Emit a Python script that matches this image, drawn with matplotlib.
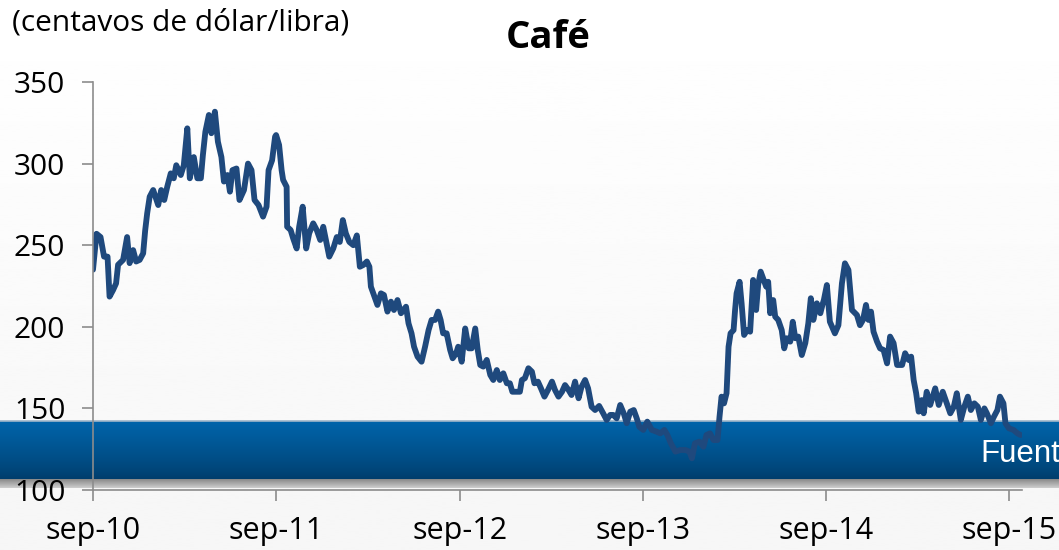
import numpy as np
import pandas as pd
import matplotlib
matplotlib.use('Agg')
import matplotlib.pyplot as plt

# Precio del café (centavos de dólar/libra), leído del gráfico
# dias: días transcurridos desde el 1 de septiembre de 2010
dias = [0, 7, 15, 22, 29, 33, 40, 46, 50, 60, 68, 73, 80, 86, 93, 100, 104, 108, 113, 120,
        130, 136, 142, 148, 155, 161, 166, 175, 181, 188, 193, 201, 208, 215, 219, 224, 231, 236, 243, 249,
        256, 261, 268, 273, 278, 286, 292, 301, 309, 316, 322, 330, 339, 346, 350, 357, 363,
        365, 371, 376, 379, 386, 387, 394, 399, 406, 411, 418, 425, 431, 439, 446, 453, 459, 465, 471,
        479, 486, 492, 498, 504, 511, 519, 526, 532, 539, 546, 551, 554, 560, 567, 574, 580, 587,
        594, 600, 607, 614, 624, 629, 635, 640, 647, 655, 662, 669, 675, 682, 688, 693, 698, 705,
        712, 717, 724,
        728, 735, 742, 749, 755, 762, 767, 772, 778, 785, 792, 798, 805, 811, 818, 825, 831, 836,
        845, 851, 855, 861, 868, 875, 880, 887, 893, 900, 907, 915, 921, 928, 935, 941, 948, 954,
        961, 968, 974, 981, 987, 994, 1001, 1009, 1017, 1024, 1031, 1037, 1044, 1051, 1058, 1064,
        1071, 1078, 1084, 1089,
        1097, 1105, 1114, 1123, 1131, 1139, 1145, 1152, 1161, 1171, 1181, 1189, 1194, 1200, 1209,
        1217, 1223, 1230, 1237, 1245, 1249, 1253, 1258, 1263, 1267, 1271, 1277, 1280, 1283, 1289,
        1293, 1298, 1304, 1310, 1316, 1322, 1326, 1331, 1336, 1342, 1346, 1350, 1356, 1360, 1366,
        1373, 1378, 1383, 1390, 1395, 1400, 1406, 1413, 1420, 1426, 1431, 1436, 1443, 1450,
        1455, 1457, 1463, 1469, 1479, 1486, 1493, 1499, 1506, 1513, 1523, 1529, 1535, 1541, 1546,
        1551, 1556, 1563, 1569, 1576, 1583, 1589, 1596, 1603, 1613, 1619, 1626, 1631, 1636, 1641,
        1646, 1652, 1656, 1662, 1669, 1679, 1686, 1694, 1701, 1709, 1716, 1722, 1730, 1737, 1744,
        1750, 1757, 1764, 1770, 1777, 1782, 1790, 1796, 1803, 1808, 1815, 1819, 1826, 1835, 1843, 1849]

precios = [235, 257, 255, 243, 243, 218.5, 222.5, 226.6, 238, 241, 255, 239, 247, 240, 241, 245, 259, 269.5, 279.7, 283.8,
           274.6, 283.8, 277.7, 285.8, 294, 291, 299, 293, 299, 321.6, 291, 304, 291, 291, 305, 319.5, 329.8, 318.6, 331.8, 313.4,
           304, 289, 293, 282.8, 296, 297, 277.7, 283.8, 300, 296, 277.7, 274.6, 267.5, 273.6, 296, 302, 316.5,
           317.5, 311.4, 296, 290, 285.8, 261.3, 259.3, 254.2, 248, 261.3, 273.6, 248, 257.3, 263.4, 259.3, 253.2, 261.3, 252.1, 243,
           248, 255, 252, 265.4, 257.3, 252, 250, 256, 236.8, 237.9, 240, 236.8, 224.6, 219.5, 213.4, 220.5, 219.5, 209.3,
           215.4, 210.3, 216.4, 208.3, 212.3, 202.1, 196, 187.8, 181.7, 178.6, 187.8, 198, 204.2, 204.2, 209.3, 204.2, 196, 196,
           185.8, 180.7, 183.8,
           187.8, 178.6, 199, 186.8, 186.8, 199, 185.8, 176.6, 175.6, 179.7, 170.5, 167.4, 173.5, 167.4, 171.5, 165.4, 165.4, 160.2,
           160.2, 160.2, 167.4, 168.5, 174.6, 172.5, 165.4, 166.4, 162.3, 157.2, 161.3, 166.4, 161.3, 157.2, 160.2, 164.3, 161.3, 158.2,
           166.4, 156.2, 163.3, 167.4, 162.3, 151, 149, 151.5, 147, 142.9, 146, 146, 143.9, 152.1, 147, 140.9,
           148, 149, 143.9, 138.8,
           136.8, 141.9, 136.8, 135.8, 134.7, 136.8, 133.7, 128.6, 123.5, 124.5, 124.5, 123.5, 119.4, 128.6, 129.6,
           126.5, 133.7, 134.7, 130.6, 130.6, 144.9, 157.2, 153.1, 159.3, 187.8, 196, 198, 210.3, 220.5, 227.6,
           214.4, 195, 198, 197, 228.7, 210.3, 225.6, 233.8, 229.7, 224.6, 227.6, 208.3, 216.4, 206.2, 204.2,
           198, 186.8, 193, 190.9, 203.1, 193, 194, 182.7, 190, 202.1, 217.5, 204.2, 214.4, 208.3,
           214.4, 216.4, 225.6, 203.1, 196, 201, 226.6, 238.9, 234.8, 210.3, 207.2, 201, 204.2, 213.4, 204.2,
           209.3, 197, 190.9, 186.8, 185.8, 177.6, 194, 190, 176.6, 176.6, 183.8, 179.7, 181.7, 167.4, 159.3,
           148, 155.1, 147, 160.2, 152.1, 162.3, 152.1, 160.2, 154.1, 147, 151, 159.3, 142.9, 151, 157.2,
           149, 153.1, 151, 142.9, 150, 147, 140.9, 144.9, 149, 157.2, 153.1, 140.9, 137.8, 136.8, 134.7, 133.7]

etiquetas_x = ['sep-10', 'sep-11', 'sep-12', 'sep-13', 'sep-14', 'sep-15']
ticks_x = pd.to_datetime(['2010-09-01', '2011-09-01', '2012-09-01', '2013-09-01', '2014-09-01', '2015-09-01'])
ticks_y = [100, 150, 200, 250, 300, 350]

inicio = pd.Timestamp('2010-09-01')
fechas = inicio + pd.to_timedelta(dias, unit='D')

fig = plt.figure(figsize=(10.59, 5.5), dpi=100)

# fondo con degradado y franja azul
fondo = fig.add_axes([0, 0, 1, 1], zorder=-10)
fondo.set_xlim(0, 1)
fondo.set_ylim(0, 1)
fondo.axis('off')
grad = np.linspace(0.965, 1.0, 256).reshape(-1, 1)
fondo.imshow(grad, extent=[0, 1, 0, 1], origin='lower', aspect='auto', cmap='gray', vmin=0, vmax=1)

azul = np.zeros((64, 1, 3))
t = np.linspace(0, 1, 64)
c_bajo = np.array([0x00, 0x3c, 0x6a]) / 255
c_alto = np.array([0x00, 0x64, 0xaa]) / 255
azul[:, 0, :] = c_bajo + (c_alto - c_bajo) * t[:, None] ** 0.8
fondo.imshow(azul, extent=[0, 1, 0.1273, 0.2345], origin='lower', aspect='auto')
sombra = np.zeros((16, 1, 3))
s = np.linspace(0, 1, 16)
sombra[:, 0, :] = (0.80 - 0.26 * s)[:, None]
fondo.imshow(sombra, extent=[0, 1, 0.1127, 0.1273], origin='lower', aspect='auto')
fondo.axhline(0.2345, color='#9fb6ca', lw=1.2)
# en el original el texto queda cortado por el borde: se ve solo "Fuent"
fondo.text(980 / 1059, 0.1745, 'Fuent', color='white', fontsize=22.5,
           family='Liberation Sans', va='center', ha='left')

ax = fig.add_axes([93 / 1059, 1 - 490 / 550, (1022 - 93) / 1059, (490 - 82) / 550])
ax.set_facecolor('none')
ax.plot(fechas, precios, color='#1f497d', lw=4.2, solid_joinstyle='round', solid_capstyle='round')

ax.set_xlim(inicio, inicio + pd.Timedelta(days=1852))
ax.set_ylim(100, 350)
ax.set_yticks(ticks_y)
ax.set_xticks(ticks_x)
ax.set_xticklabels(etiquetas_x)

for lado in ['top', 'right']:
    ax.spines[lado].set_visible(False)
for lado in ['left', 'bottom']:
    ax.spines[lado].set_color('#8c8c8c')
    ax.spines[lado].set_linewidth(1.2)

ax.tick_params(axis='y', length=8, width=1.2, color='#8c8c8c', pad=12, labelsize=21.5)
ax.tick_params(axis='x', length=8, width=1.2, color='#8c8c8c', pad=11, labelsize=22)
for lbl in ax.get_xticklabels() + ax.get_yticklabels():
    lbl.set_family('Open Sans')

fig.text(12 / 1059, 1 - 23 / 550, '(centavos de dólar/libra)', fontsize=21.5,
         family='Open Sans', va='center', ha='left')
fig.text(548 / 1059, 1 - 38 / 550, 'Café', fontsize=27.5, fontweight='bold',
         family='Open Sans', va='center', ha='center')

fig.savefig('out.png', dpi=100)
